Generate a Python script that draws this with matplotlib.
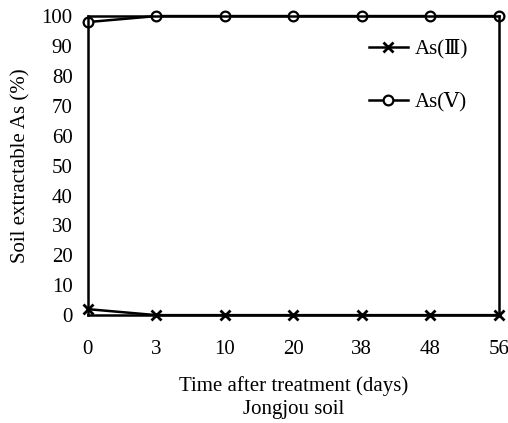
import matplotlib.pyplot as plt

# Data
days = ["0", "3", "10", "20", "38", "48", "56"]
as3 = [2, 0, 0, 0, 0, 0, 0]
as5 = [98, 100, 100, 100, 100, 100, 100]

plt.rcParams['font.family'] = ['Liberation Serif', 'DejaVu Serif', 'Noto Sans CJK SC']
plt.rcParams['font.size'] = 15

fig = plt.figure(figsize=(5.08, 4.23), dpi=100)
ax = fig.add_axes([0.173, 0.255, 0.809, 0.707])

x = list(range(len(days)))
ax.plot(x, as3, "k-x", lw=1.8, ms=7, mew=2, label="As(Ⅲ)", clip_on=False)
ax.plot(x, as5, "k-o", lw=1.8, ms=7, mew=1.6, mfc='white', label="As(Ⅴ)", clip_on=False)

ax.set_xlim(0, 6)
ax.set_ylim(0, 100)
ax.set_xticks(x)
ax.set_xticklabels(days)
ax.set_yticks(range(0, 101, 10))
ax.tick_params(axis='x', length=0, pad=18)
ax.tick_params(axis='y', length=0, pad=11)
for s in ax.spines.values():
    s.set_linewidth(1.8)

ax.set_ylabel("Soil extractable As (%)", labelpad=8)
ax.set_xlabel("Time after treatment (days)\nJongjou soil", labelpad=12, linespacing=1.3)

ax.legend(loc='upper right', bbox_to_anchor=(0.97, 0.985), frameon=False,
          labelspacing=1.6, handlelength=1.9, handletextpad=0.3, fontsize=15)

fig.savefig("out.png", dpi=100)
